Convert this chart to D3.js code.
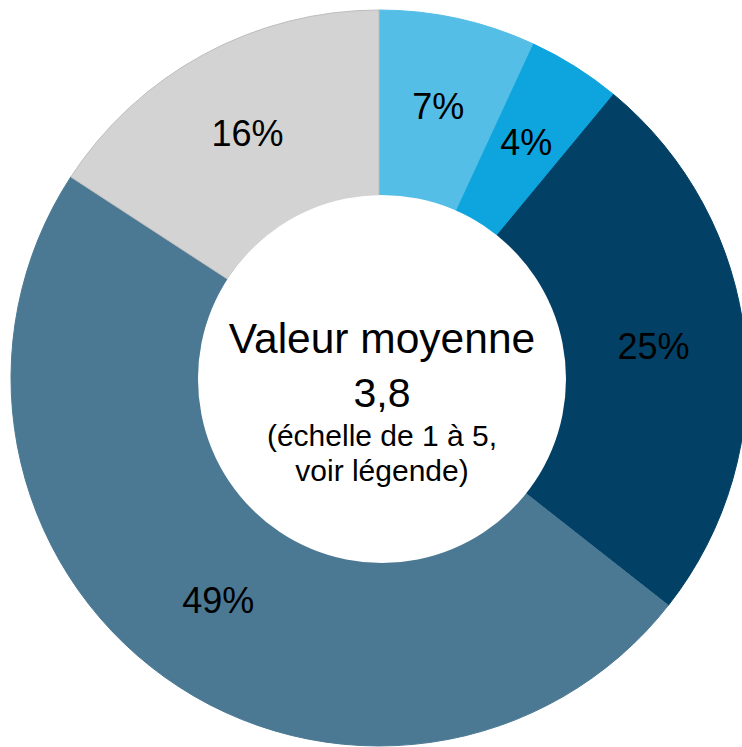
<!DOCTYPE html>
<html>
<head>
<meta charset="utf-8">
<script src="https://cdn.jsdelivr.net/npm/d3@7"></script>
<style>
  body { margin: 0; background: #fff; }
  svg { display: block; font-family: "Liberation Sans", Arial, sans-serif; }
</style>
</head>
<body>
<svg width="742" height="747"></svg>
<script>
// shares, clockwise from 12 o'clock
const categories = ['5', '4b', '4', '3', 'autre']
const values = [6.9, 4.1, 24.6, 48.6, 15.8]
const colors = ['#55bee6', '#0ea5de', '#024165', '#4b7993', '#d3d3d3']
const centerLines = ['Valeur moyenne', '3,8', '(échelle de 1 à 5,', 'voir légende)']

const svg = d3.select('svg')
const cx = 379, cy = 378
const outerR = 368, innerR = 181

const pie = d3.pie().sort(null).value(d => d.v)
const data = pie(categories.map((c, i) => ({c, v: values[i], color: colors[i]})))

const arc = d3.arc().innerRadius(innerR).outerRadius(outerR)
const labelArc = d3.arc().innerRadius(276).outerRadius(276)

const g = svg.append('g').attr('transform', `translate(${cx},${cy})`)

g.selectAll('path')
	.data(data)
	.join('path')
	.attr('d', arc)
	.attr('fill', d => d.data.color)
	.attr('stroke', d => d.data.c === 'autre' ? '#bdbdbd' : d.data.color)
	.attr('stroke-width', 1)

// hole (sits a touch right of the ring centre in the original)
g.append('circle')
	.attr('cx', 3)
	.attr('cy', 1)
	.attr('r', 184)
	.attr('fill', '#fff')

g.selectAll('text.pct')
	.data(data)
	.join('text')
	.attr('class', 'pct')
	.attr('transform', d => `translate(${labelArc.centroid(d)})`)
	.attr('text-anchor', 'middle')
	.attr('dy', '0.3em')
	.attr('font-size', 36)
	.attr('fill', '#000')
	.text(d => Math.round(d.data.v) + '%')

const ct = svg.append('g').attr('transform', `translate(${cx + 3},0)`)
const lineY = [353, 407, 446, 481]
const lineSize = [42.5, 41, 30, 30]
ct.selectAll('text')
	.data(centerLines)
	.join('text')
	.attr('x', 0)
	.attr('y', (d, i) => lineY[i])
	.attr('text-anchor', 'middle')
	.attr('font-size', (d, i) => lineSize[i])
	.attr('fill', '#000')
	.text(d => d)
</script>
</body>
</html>
